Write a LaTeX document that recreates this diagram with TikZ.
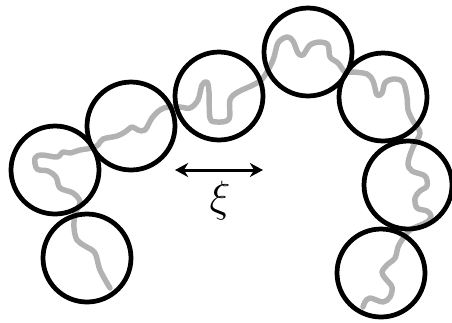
\documentclass[tikz,border=0pt]{standalone}
\usetikzlibrary{arrows.meta}

\begin{document}
\begin{tikzpicture}[
    x=0.02cm, y=-0.02cm,
    bead/.style={draw, circle, line width=2.7pt, minimum size=1.76cm, inner sep=0pt},
    chain/.style={line width=3.1pt, gray!60, line cap=round, line join=round},
    span/.style={{Stealth[length=7.5pt,width=8pt]}-{Stealth[length=7.5pt,width=8pt]}, line width=1.7pt}
]
\useasboundingbox (0,0) rectangle (452,322);

% the chain, drawn first so the blobs sit on top
\draw[chain] plot[smooth, tension=0.55] coordinates {
    (110,288) (100,270) (95,253) (85,246) (77,240) (74,228) (75,214) (80,202)
    (73,193) (60,188) (56,177) (48,171) (37,169) (35,158) (42,155) (57,157)
    (63,152) (70,153) (80,150) (92,148) (98,145) (103,139) (117,136) (125,132)
    (132,127) (138,130) (145,130) (152,118) (160,110) (168,107) (180,107) (190,108)
    (198,100) (202,85) (207,82) (209,92) (210,118) (217,122) (229,119) (230,100)
    (238,92) (253,85) (263,78) (273,60) (278,43) (287,37) (293,41) (298,53)
    (303,55) (310,45) (320,42) (328,45) (330,57) (338,63) (345,72) (353,72)
    (367,74) (373,81) (377,95) (382,93) (385,83) (393,79) (403,82) (407,97)
    (408,110) (413,121) (420,133) (413,147) (408,163) (412,171) (425,176) (427,186)
    (420,191) (415,198) (417,208) (427,211) (431,216) (427,222) (410,230) (402,240)
    (398,247) (395,258) (387,265) (382,272) (385,278) (392,287) (390,297) (383,302)
    (370,298) (365,302) (363,307)};

% blobs along the chain
\node[bead] (b1) at (87,258) {};
\node[bead] (b2) at (55,170) {};
\node[bead] (b3) at (131,126) {};
\node[bead] (b4) at (219,96) {};
\node[bead] (b5) at (308,52) {};
\node[bead] (b6) at (383,97) {};
\node[bead] (b7) at (408,185) {};
\node[bead] (b8) at (381,273) {};

% blob size
\coordinate (sl) at (175,170);
\coordinate (sr) at (263,170);
\draw[span] (sl) -- (sr);
\node[font=\fontsize{28}{32}\selectfont] (xi) at (220,201) {$\xi$};
\end{tikzpicture}
\end{document}
